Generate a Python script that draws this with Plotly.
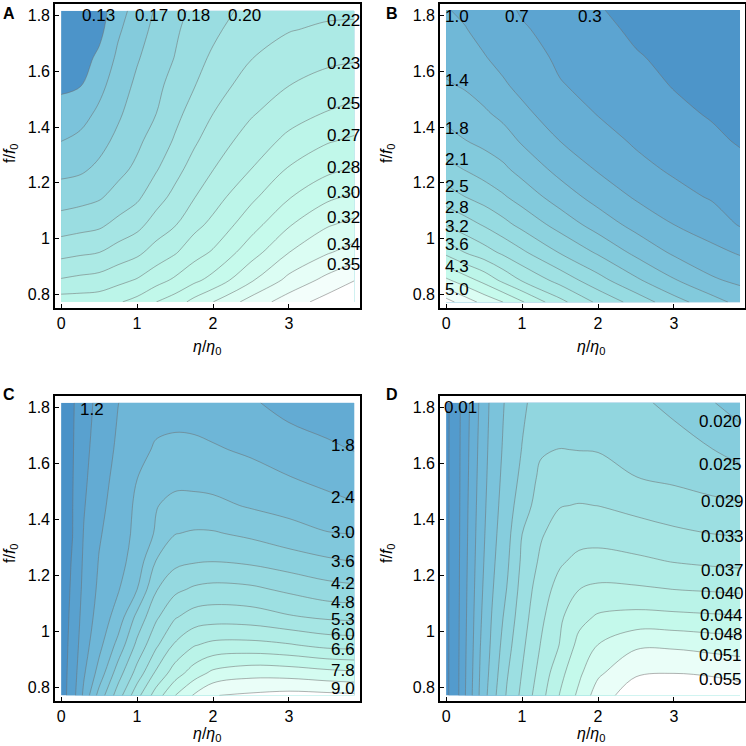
import plotly.graph_objects as go

# ---------------- Panel A ----------------
a_x = [0, 0.25, 0.5, 0.75, 1.0, 1.25, 1.5, 1.75, 2.0, 2.5, 3.0, 3.5, 3.86]
a_y = [0.772, 0.85, 0.95, 1.05, 1.15, 1.25, 1.35, 1.45, 1.55, 1.65, 1.75, 1.818]
a_z = [
    [0.2590, 0.2590, 0.2599, 0.2659, 0.2728, 0.2846, 0.2934, 0.3072, 0.3190, 0.3433, 0.3622, 0.3777, 0.3932],
    [0.2347, 0.2375, 0.2397, 0.2456, 0.2518, 0.2612, 0.2705, 0.2808, 0.2905, 0.3168, 0.3414, 0.3586, 0.3701],
    [0.2103, 0.2132, 0.2158, 0.2232, 0.2294, 0.2401, 0.2487, 0.2607, 0.2695, 0.2944, 0.3190, 0.3347, 0.3431],
    [0.1899, 0.1926, 0.1954, 0.2036, 0.2108, 0.2231, 0.2320, 0.2451, 0.2547, 0.2776, 0.3003, 0.3173, 0.3237],
    [0.1732, 0.1756, 0.1794, 0.1876, 0.1955, 0.2089, 0.2206, 0.2322, 0.2430, 0.2636, 0.2834, 0.2982, 0.3048],
    [0.1592, 0.1613, 0.1678, 0.1766, 0.1850, 0.1971, 0.2103, 0.2225, 0.2327, 0.2502, 0.2690, 0.2805, 0.2855],
    [0.1470, 0.1513, 0.1587, 0.1685, 0.1782, 0.1888, 0.2007, 0.2134, 0.2243, 0.2408, 0.2547, 0.2661, 0.2705],
    [0.1369, 0.1403, 0.1505, 0.1616, 0.1730, 0.1813, 0.1940, 0.2053, 0.2158, 0.2313, 0.2433, 0.2513, 0.2557],
    [0.1266, 0.1291, 0.1420, 0.1561, 0.1678, 0.1771, 0.1881, 0.1979, 0.2086, 0.2232, 0.2330, 0.2399, 0.2428],
    [0.1197, 0.1223, 0.1334, 0.1505, 0.1627, 0.1730, 0.1821, 0.1931, 0.2012, 0.2153, 0.2241, 0.2291, 0.2310],
    [0.1128, 0.1180, 0.1248, 0.1446, 0.1575, 0.1689, 0.1790, 0.1883, 0.1954, 0.2091, 0.2151, 0.2186, 0.2200],
    [0.1076, 0.1154, 0.1223, 0.1403, 0.1541, 0.1661, 0.1764, 0.1850, 0.1919, 0.2040, 0.2091, 0.2126, 0.2126],
]
a_labels = ["0.13", "0.17", "0.18", "0.20", "0.22", "0.23", "0.25", "0.27", "0.28", "0.30", "0.32", "0.34", "0.35"]
a_lab_x = [0.49, 1.19, 1.74, 2.41, 3.72, 3.72, 3.72, 3.72, 3.72, 3.72, 3.72, 3.72, 3.72]
a_lab_y = [1.80, 1.80, 1.80, 1.80, 1.782, 1.629, 1.486, 1.369, 1.253, 1.164, 1.074, 0.979, 0.905]

# ---------------- Panel B ----------------
b_x = [0, 0.25, 0.5, 0.75, 1.0, 1.5, 2.0, 2.5, 3.0, 3.5, 3.87]
b_y = [0.771, 0.85, 0.95, 1.05, 1.15, 1.25, 1.35, 1.45, 1.55, 1.65, 1.75, 1.82]
b_z = [
    [5.520, 5.194, 4.904, 4.650, 4.324, 3.671, 3.128, 2.693, 2.258, 1.895, 1.641],
    [4.715, 4.451, 4.172, 3.834, 3.530, 3.066, 2.606, 2.174, 1.779, 1.438, 1.304],
    [3.831, 3.552, 3.352, 3.128, 2.899, 2.450, 2.062, 1.659, 1.326, 1.116, 0.989],
    [3.164, 2.993, 2.798, 2.587, 2.370, 1.971, 1.591, 1.268, 1.023, 0.844, 0.634],
    [2.653, 2.473, 2.323, 2.152, 1.960, 1.576, 1.250, 0.982, 0.782, 0.626, 0.550],
    [2.232, 2.091, 1.953, 1.815, 1.623, 1.272, 0.989, 0.768, 0.605, 0.499, 0.412],
    [1.895, 1.761, 1.659, 1.543, 1.348, 1.023, 0.808, 0.615, 0.492, 0.376, 0.264],
    [1.638, 1.551, 1.435, 1.297, 1.098, 0.855, 0.644, 0.518, 0.380, 0.264, 0.191],
    [1.427, 1.351, 1.235, 1.065, 0.942, 0.684, 0.557, 0.420, 0.282, 0.191, 0.137],
    [1.261, 1.195, 1.043, 0.934, 0.822, 0.601, 0.470, 0.325, 0.228, 0.137, 0.083],
    [1.134, 1.040, 0.931, 0.826, 0.702, 0.532, 0.383, 0.246, 0.173, 0.083, 0.046],
    [1.043, 0.971, 0.855, 0.750, 0.626, 0.485, 0.325, 0.191, 0.119, 0.046, 0.010],
]
b_labels = ["1.0", "0.7", "0.3", "1.4", "1.8", "2.1", "2.5", "2.8", "3.2", "3.6", "4.3", "5.0"]
b_lab_x = [0.15, 0.94, 1.90, 0.15, 0.15, 0.15, 0.15, 0.15, 0.15, 0.15, 0.15, 0.15]
b_lab_y = [1.796, 1.796, 1.796, 1.569, 1.396, 1.282, 1.186, 1.112, 1.043, 0.979, 0.899, 0.818]

# ---------------- Panel C ----------------
c_x = [0, 0.15, 0.3, 0.5, 0.75, 1.0, 1.25, 1.5, 1.75, 2.0, 2.5, 3.0, 3.5, 3.86]
c_y = [0.77, 0.85, 0.95, 1.05, 1.15, 1.25, 1.35, 1.45, 1.55, 1.65, 1.75, 1.818]
c_z = [
    [0.3, 0.93, 1.93, 3.22, 4.50, 5.80, 6.88, 7.79, 8.46, 8.98, 9.10, 9.20, 9.15, 9.10],
    [0.3, 0.87, 1.73, 2.62, 3.91, 5.03, 6.10, 6.90, 7.50, 7.94, 8.19, 8.15, 8.00, 7.92],
    [0.3, 0.80, 1.56, 2.22, 3.19, 4.35, 5.29, 6.09, 6.56, 6.76, 6.79, 6.66, 6.43, 6.38],
    [0.3, 0.74, 1.44, 2.03, 2.65, 3.77, 4.70, 5.35, 5.66, 5.74, 5.69, 5.47, 5.31, 5.26],
    [0.3, 0.685, 1.35, 1.91, 2.35, 2.99, 4.15, 4.66, 4.89, 4.98, 4.92, 4.68, 4.43, 4.35],
    [0.3, 0.64, 1.29, 1.83, 2.20, 2.66, 3.62, 4.04, 4.15, 4.19, 4.09, 3.89, 3.70, 3.59],
    [0.3, 0.59, 1.23, 1.74, 2.13, 2.54, 3.07, 3.58, 3.66, 3.65, 3.48, 3.25, 3.03, 2.98],
    [0.3, 0.585, 1.16, 1.63, 2.08, 2.50, 2.97, 3.17, 3.18, 3.14, 2.94, 2.78, 2.60, 2.45],
    [0.3, 0.57, 1.09, 1.55, 1.99, 2.39, 2.75, 2.83, 2.82, 2.78, 2.61, 2.42, 2.22, 2.11],
    [0.3, 0.556, 1.03, 1.48, 1.895, 2.21, 2.47, 2.56, 2.53, 2.46, 2.31, 2.11, 1.90, 1.78],
    [0.3, 0.545, 0.97, 1.42, 1.83, 2.12, 2.28, 2.30, 2.29, 2.22, 2.03, 1.79, 1.65, 1.60],
    [0.3, 0.537, 0.94, 1.38, 1.79, 2.04, 2.18, 2.20, 2.19, 2.10, 1.85, 1.65, 1.55, 1.50],
]
c_labels = ["1.2", "1.8", "2.4", "3.0", "3.6", "4.2", "4.8", "5.3", "6.0", "6.6", "7.8", "9.0"]
c_lab_x = [0.41, 3.71, 3.71, 3.71, 3.71, 3.71, 3.71, 3.71, 3.71, 3.71, 3.71, 3.71]
c_lab_y = [1.792, 1.666, 1.479, 1.352, 1.250, 1.170, 1.101, 1.041, 0.989, 0.935, 0.860, 0.793]

# ---------------- Panel D ----------------
d_x = [0, 0.1, 0.2, 0.3, 0.45, 0.6, 0.8, 1.0, 1.25, 1.5, 1.75, 2.0, 2.5, 3.0, 3.5, 3.87]
d_y = [0.77, 0.85, 0.95, 1.05, 1.15, 1.25, 1.35, 1.45, 1.55, 1.65, 1.75, 1.818]
d_z = [
    [0.0, 0.00140, 0.00586, 0.01029, 0.01676, 0.02211, 0.02819, 0.03260, 0.03817, 0.04363, 0.04816, 0.05315, 0.05744, 0.05783, 0.05744, 0.05686],
    [0.0, 0.00140, 0.00577, 0.01006, 0.01645, 0.02133, 0.02741, 0.03182, 0.03704, 0.04223, 0.04656, 0.05050, 0.05463, 0.05506, 0.05467, 0.05401],
    [0.0, 0.00136, 0.00565, 0.00978, 0.01602, 0.02062, 0.02628, 0.03088, 0.03583, 0.03970, 0.04461, 0.04738, 0.05054, 0.05054, 0.04976, 0.04925],
    [0.0, 0.00136, 0.00553, 0.00955, 0.01559, 0.02008, 0.02515, 0.03002, 0.03478, 0.03888, 0.04219, 0.04391, 0.04465, 0.04438, 0.04402, 0.04379],
    [0.0, 0.00132, 0.00541, 0.00931, 0.01516, 0.01953, 0.02398, 0.02924, 0.03381, 0.03708, 0.03946, 0.04024, 0.04005, 0.03946, 0.03907, 0.03876],
    [0.0, 0.00132, 0.00534, 0.00908, 0.01474, 0.01906, 0.02320, 0.02846, 0.03244, 0.03509, 0.03658, 0.03693, 0.03634, 0.03544, 0.03486, 0.03459],
    [0.0, 0.00132, 0.00522, 0.00889, 0.01435, 0.01864, 0.02257, 0.02776, 0.03131, 0.03334, 0.03408, 0.03416, 0.03338, 0.03244, 0.03166, 0.03135],
    [0.0, 0.00128, 0.00514, 0.00869, 0.01399, 0.01825, 0.02203, 0.02601, 0.02963, 0.03154, 0.03186, 0.03166, 0.03061, 0.02948, 0.02866, 0.02823],
    [0.0, 0.00128, 0.00506, 0.00850, 0.01364, 0.01786, 0.02160, 0.02476, 0.02878, 0.02971, 0.02979, 0.02948, 0.02784, 0.02714, 0.02620, 0.02527],
    [0.0, 0.00128, 0.00499, 0.00832, 0.01333, 0.01754, 0.02117, 0.02402, 0.02730, 0.02788, 0.02772, 0.02761, 0.02663, 0.02554, 0.02398, 0.02250],
    [0.0, 0.00124, 0.00491, 0.00814, 0.01302, 0.01727, 0.02086, 0.02351, 0.02624, 0.02663, 0.02663, 0.02655, 0.02546, 0.02398, 0.02195, 0.01988],
    [0.0, 0.00124, 0.00487, 0.00803, 0.01282, 0.01708, 0.02062, 0.02320, 0.02566, 0.02605, 0.02605, 0.02593, 0.02468, 0.02293, 0.02020, 0.01844],
]
d_labels = ["0.01", "0.020", "0.025", "0.029", "0.033", "0.037", "0.040", "0.044", "0.048", "0.051", "0.055"]
d_lab_x = [0.19, 3.61, 3.61, 3.64, 3.64, 3.64, 3.64, 3.62, 3.62, 3.61, 3.61]
d_lab_y = [1.80, 1.751, 1.596, 1.464, 1.339, 1.218, 1.134, 1.057, 0.987, 0.913, 0.826]

x_ticks = [0, 1, 2, 3]
y_ticks = [0.8, 1.0, 1.2, 1.4, 1.6, 1.8]
y_tick_text = ["0.8", "1", "1.2", "1.4", "1.6", "1.8"]

# ---------------- styling ----------------
CMAP = [
    (0.00, (70, 142, 198)),
    (0.20, (92, 164, 209)),
    (0.40, (120, 192, 218)),
    (0.50, (135, 206, 221)),
    (0.60, (152, 220, 225)),
    (0.70, (170, 233, 229)),
    (0.80, (190, 246, 233)),
    (0.85, (198, 250, 236)),
    (0.92, (222, 253, 244)),
    (1.00, (255, 255, 255)),
]


def cmap(t):
    for (t0, c0), (t1, c1) in zip(CMAP[:-1], CMAP[1:]):
        if t <= t1:
            f = 0 if t1 == t0 else (t - t0) / (t1 - t0)
            c = [round(c0[k] + f * (c1[k] - c0[k])) for k in range(3)]
            return "rgb(%d,%d,%d)" % tuple(c)
    return "rgb(255,255,255)"


def step_scale(ts):
    n = len(ts)
    out = []
    for i, t in enumerate(ts):
        col = cmap(t)
        out.append([i / n, col])
        out.append([(i + 1) / n, col])
    return out


a_t = [0.05, 0.42, 0.48, 0.55, 0.61, 0.67, 0.71, 0.75, 0.79, 0.82, 0.85, 0.88, 0.91, 0.94, 0.97, 1.0]
b_t = [0.06, 0.20, 0.27, 0.34, 0.41, 0.47, 0.53, 0.59, 0.64, 0.69, 0.74, 0.79, 0.85, 0.91, 0.96, 1.0]
c_t = [0.04, 0.17, 0.25, 0.33, 0.40, 0.46, 0.52, 0.58, 0.63, 0.68, 0.73, 0.78, 0.83, 0.89, 0.95, 1.0]
d_t = [0.03, 0.12, 0.20, 0.28, 0.35, 0.42, 0.49, 0.56, 0.62, 0.68, 0.73, 0.78, 0.84, 0.89, 0.95, 1.0]

FONT = "Liberation Sans, Arial, Helvetica, sans-serif"
LINE = dict(color="rgba(110,110,110,0.7)", width=0.75, smoothing=1.0)
LAB = 17
TICK = 16

fig = go.Figure()
panels = [
    ("x", "y", a_x, a_y, a_z, dict(start=0.13, end=0.3709, size=0.0172), a_t),
    ("x2", "y2", b_x, b_y, b_z, dict(start=0.3, end=5.376, size=0.3625), b_t),
    ("x3", "y3", c_x, c_y, c_z, dict(start=0.6, end=9.001, size=0.6), c_t),
    ("x4", "y4", d_x, d_y, d_z, dict(start=0.0005, end=0.05511, size=0.0039), d_t),
]
for xa, ya, xs, ys, zs, cont, ts in panels:
    cont.update(coloring="fill", showlabels=False)
    fig.add_trace(go.Contour(
        x=xs, y=ys, z=zs, xaxis=xa, yaxis=ya,
        contours=cont, colorscale=step_scale(ts), showscale=False,
        line=LINE, hoverinfo="skip",
    ))

W = 746.0
doms_x = [(55 / W, 360 / W), (440 / W, 745 / W), (55 / W, 360 / W), (440 / W, 745 / W)]
doms_y = [(1 - 308 / W, 1 - 4 / W), (1 - 308 / W, 1 - 4 / W), (1 - 701 / W, 1 - 396 / W), (1 - 701 / W, 1 - 396 / W)]

layout = dict(
    width=746, height=746, margin=dict(l=0, r=0, t=0, b=0),
    paper_bgcolor="white", plot_bgcolor="white", showlegend=False,
    font=dict(family=FONT, size=TICK, color="black"),
)
for i in range(4):
    sfx = "" if i == 0 else str(i + 1)
    layout["xaxis" + sfx] = dict(
        domain=list(doms_x[i]), range=[-0.08, 3.935], anchor="y" + sfx,
        tickvals=x_ticks, ticktext=[str(v) for v in x_ticks],
        ticks="inside", ticklen=4, tickwidth=1, tickcolor="black",
        showline=True, mirror=True, linecolor="black", linewidth=1.6,
        showgrid=False, zeroline=False, tickfont=dict(size=TICK),
    )
    layout["yaxis" + sfx] = dict(
        domain=list(doms_y[i]), range=[0.75, 1.842], anchor="x" + sfx,
        tickvals=y_ticks, ticktext=y_tick_text,
        ticks="inside", ticklen=4, tickwidth=1, tickcolor="black",
        showline=True, mirror=True, linecolor="black", linewidth=1.6,
        showgrid=False, zeroline=False, tickfont=dict(size=TICK),
    )
fig.update_layout(**layout)

ann = []
for (xa, ya, labs, lx, ly) in [
    ("x", "y", a_labels, a_lab_x, a_lab_y),
    ("x2", "y2", b_labels, b_lab_x, b_lab_y),
    ("x3", "y3", c_labels, c_lab_x, c_lab_y),
    ("x4", "y4", d_labels, d_lab_x, d_lab_y),
]:
    for t, xx, yy in zip(labs, lx, ly):
        ann.append(dict(x=xx, y=yy, xref=xa, yref=ya, text=t, showarrow=False,
                        xanchor="center", yanchor="middle",
                        font=dict(size=LAB, color="black", family=FONT)))

# panel letters
for t, px, py in [("A", 9, 13), ("B", 392, 13), ("C", 9, 394), ("D", 392, 394)]:
    ann.append(dict(x=px / W, y=1 - py / W, xref="paper", yref="paper", text="<b>%s</b>" % t,
                    showarrow=False, xanchor="center", yanchor="middle",
                    font=dict(size=16, color="black", family=FONT)))

# axis titles
xt = "<i>η</i>/<i>η</i><sub>0</sub>"
yt = "f/<i>f</i><sub>0</sub>"
for px, py in [(207, 347), (591, 347), (207, 734), (591, 734)]:
    ann.append(dict(x=px / W, y=1 - py / W, xref="paper", yref="paper", text=xt,
                    showarrow=False, xanchor="center", yanchor="middle",
                    font=dict(size=16, color="black", family=FONT)))
for px, py in [(10, 153), (387, 153), (10, 553), (387, 553)]:
    ann.append(dict(x=px / W, y=1 - py / W, xref="paper", yref="paper", text=yt, textangle=-90,
                    showarrow=False, xanchor="center", yanchor="middle",
                    font=dict(size=16, color="black", family=FONT)))

fig.update_layout(annotations=ann)
fig.write_html(
    "out.html",
    config={"displayModeBar": False},
    post_script="document.body.style.margin='0px';document.body.style.overflow='hidden';",
)
